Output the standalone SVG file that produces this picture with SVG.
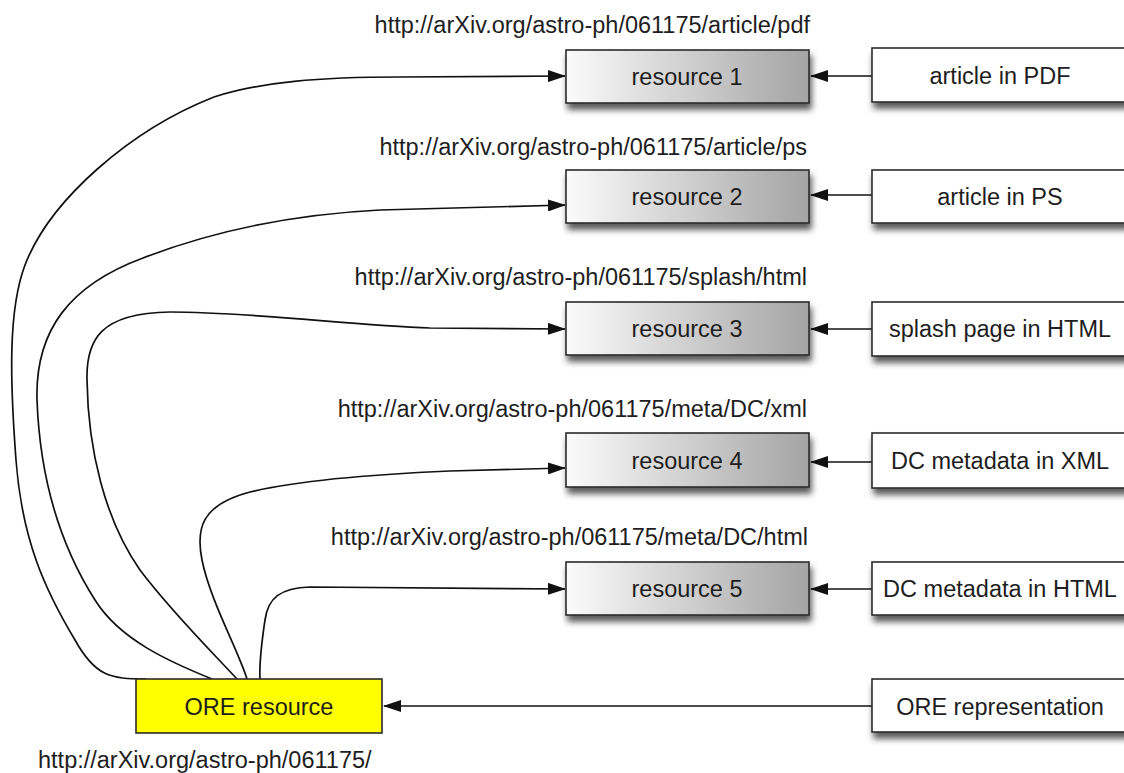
<svg xmlns="http://www.w3.org/2000/svg" width="1124" height="773" viewBox="0 0 1124 773">
<defs>
<linearGradient id="resGrad" x1="0" y1="0" x2="1" y2="0">
<stop offset="0" stop-color="#fbfbfb"/>
<stop offset="1" stop-color="#a4a4a4"/>
</linearGradient>
<filter id="shadow" x="-10%" y="-30%" width="130%" height="190%">
<feDropShadow dx="2" dy="6" stdDeviation="3" flood-color="#000" flood-opacity="0.65"/>
</filter>
<marker id="arrow" markerUnits="userSpaceOnUse" markerWidth="18" markerHeight="12" refX="17" refY="6" orient="auto">
<path d="M0,0 L18,6 L0,12 z" fill="#111"/>
</marker>
</defs>
<style>
text{font-family:"Liberation Sans",Arial,Helvetica,sans-serif;font-size:23.5px;fill:#1e1e1e}
.c{text-anchor:middle}
.e{text-anchor:end}
.res{fill:url(#resGrad);stroke:#2a2a2a;stroke-width:1.6;filter:url(#shadow)}
.fmt{fill:#fff;stroke:#2a2a2a;stroke-width:1.6;filter:url(#shadow)}
.ore{fill:#ffff00;stroke:#2a2a2a;stroke-width:1.6}
.conn{fill:none;stroke:#111;stroke-width:1.7;marker-end:url(#arrow)}
</style>
<rect width="1124" height="773" fill="#fff"/>

<g id="connectors">
<path class="conn" d="M 146 679 C 110 679, 95 676, 75 640 C 45 590, 22 540, 16 460 C 10 380, 8 310, 25 265 C 50 200, 130 130, 214 97 C 260 82, 320 77, 400 77 L 565 76"/>
<path class="conn" d="M 212 679 C 170 662, 120 640, 95 600 C 60 545, 40 480, 37 400 C 35 330, 70 285, 143 258 C 200 236, 280 215, 380 210 L 565 205"/>
<path class="conn" d="M 237 679 C 210 650, 170 610, 140 570 C 105 520, 88 450, 87 380 C 86 340, 100 313, 170 312 C 250 312, 350 325, 430 328 L 565 329"/>
<path class="conn" d="M 247 679 C 238 650, 210 600, 202 560 C 196 530, 200 505, 250 492 C 300 480, 380 474, 450 471 L 565 468"/>
<path class="conn" d="M 260 679 C 259 660, 262 640, 265 620 C 268 598, 280 588, 310 587 L 565 589"/>
<path class="conn" d="M 872 76 L 811 76"/>
<path class="conn" d="M 872 195 L 811 195"/>
<path class="conn" d="M 872 329 L 811 329"/>
<path class="conn" d="M 872 462 L 811 462"/>
<path class="conn" d="M 872 589 L 811 589"/>
<path class="conn" d="M 872 706 L 384 706"/>
</g>

<g id="resource1">
<rect class="res" x="566" y="50" width="243" height="53"/>
<text class="c" x="687" y="85">resource 1</text>
<text class="e" x="810" y="33">http://arXiv.org/astro-ph/061175/article/pdf</text>
</g>
<g id="resource2">
<rect class="res" x="566" y="170" width="243" height="53"/>
<text class="c" x="687" y="205">resource 2</text>
<text class="e" x="807" y="155">http://arXiv.org/astro-ph/061175/article/ps</text>
</g>
<g id="resource3">
<rect class="res" x="566" y="302" width="243" height="53"/>
<text class="c" x="687" y="337">resource 3</text>
<text class="e" x="807" y="285">http://arXiv.org/astro-ph/061175/splash/html</text>
</g>
<g id="resource4">
<rect class="res" x="566" y="433" width="243" height="54"/>
<text class="c" x="687" y="469">resource 4</text>
<text class="e" x="807" y="417">http://arXiv.org/astro-ph/061175/meta/DC/xml</text>
</g>
<g id="resource5">
<rect class="res" x="566" y="562" width="243" height="53"/>
<text class="c" x="687" y="597">resource 5</text>
<text class="e" x="808" y="545">http://arXiv.org/astro-ph/061175/meta/DC/html</text>
</g>

<g id="fmt1">
<rect class="fmt" x="872" y="48" width="256" height="54"/>
<text class="c" x="1000" y="84">article in PDF</text>
</g>
<g id="fmt2">
<rect class="fmt" x="872" y="170" width="256" height="53"/>
<text class="c" x="1000" y="205">article in PS</text>
</g>
<g id="fmt3">
<rect class="fmt" x="872" y="302" width="256" height="54"/>
<text class="c" x="1000" y="337">splash page in HTML</text>
</g>
<g id="fmt4">
<rect class="fmt" x="872" y="433" width="256" height="55"/>
<text class="c" x="1000" y="469">DC metadata in XML</text>
</g>
<g id="fmt5">
<rect class="fmt" x="872" y="562" width="256" height="53"/>
<text class="c" x="1000" y="597">DC metadata in HTML</text>
</g>

<g id="ore-resource">
<rect class="ore" x="136" y="679" width="246" height="54"/>
<text class="c" x="259" y="715">ORE resource</text>
<text x="38" y="768">http://arXiv.org/astro-ph/061175/</text>
</g>
<g id="ore-representation">
<rect class="fmt" x="872" y="679" width="256" height="53"/>
<text class="c" x="1000" y="715">ORE representation</text>
</g>
</svg>
